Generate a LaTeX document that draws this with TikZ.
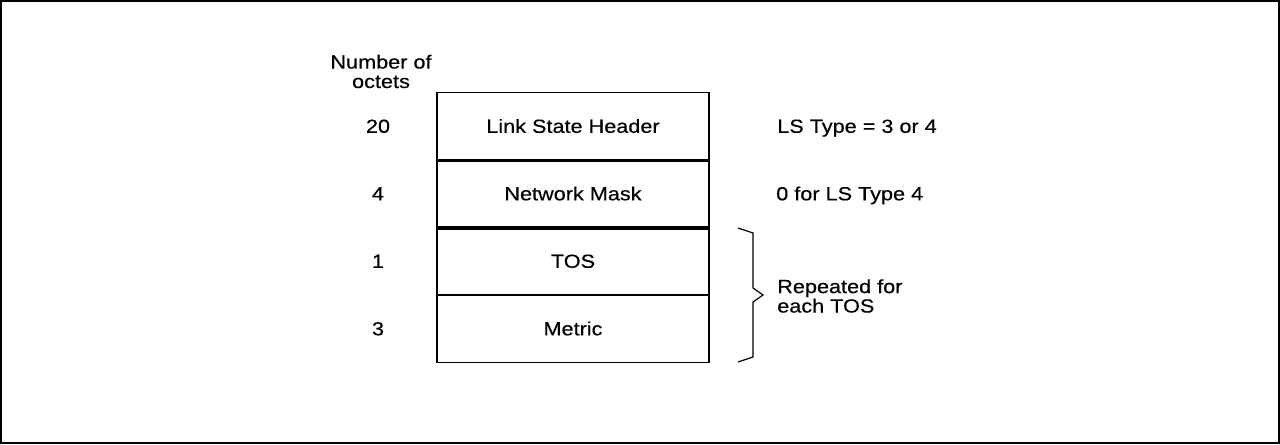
\documentclass[tikz,border=0pt]{standalone}
\usepackage{fontspec}
\setmainfont{Liberation Sans}[FakeStretch=1.14, FakeBold=0.4]
\begin{document}
\begin{tikzpicture}[x=0.75pt,y=-0.75pt,
  every node/.style={font=\fontsize{14.25pt}{14.6pt}\selectfont, inner sep=0pt},
  rowbox/.style={draw, line width=1.5*0.75pt, minimum width=272*0.75pt, minimum height=67.5*0.75pt, text height=13.6*0.75pt, text depth=0pt},
  numlbl/.style={text height=13.6*0.75pt, text depth=0pt},
  sidelbl/.style={anchor=west, text height=13.6*0.75pt, text depth=0pt},
  sep/.style={line width=3.5*0.75pt},
  brace/.style={line width=1.2*0.75pt}]
\useasboundingbox (0,0) rectangle (1280,444);
\draw[line width=2*0.75pt] (1,1) rectangle (1279,443);
% rows
\node[rowbox] (hdr) at (573,126) {Link State Header};
\node[rowbox] (mask) at (573,193.5) {Network Mask};
\node[rowbox] (tos) at (573,261) {TOS};
\node[rowbox] (metric) at (573,328.5) {Metric};
\draw[sep] (hdr.south west) -- (hdr.south east);
\draw[sep] (mask.south west) -- (mask.south east);
% octet counts
\node[anchor=base, align=center] (head) at (381,88) {Number of\\octets};
\node[numlbl] (n20) at (378,126) {20};
\node[numlbl] (n4) at (378,193.5) {4};
\node[numlbl] (n1) at (378,261) {1};
\node[numlbl] (n3) at (378,328.5) {3};
% side labels
\node[sidelbl] (ls) at (777,126) {LS Type = 3 or 4};
\node[sidelbl] (zero) at (776,193.5) {0 for LS Type 4};
% brace
\draw[brace] (738,228) -- (753,233) -- (753,288) -- (763,295) -- (753,302) -- (753,357) -- (738,362);
\node[anchor=west, align=left] (rep) at (777,296) {Repeated for\\each TOS};
\end{tikzpicture}
\end{document}
